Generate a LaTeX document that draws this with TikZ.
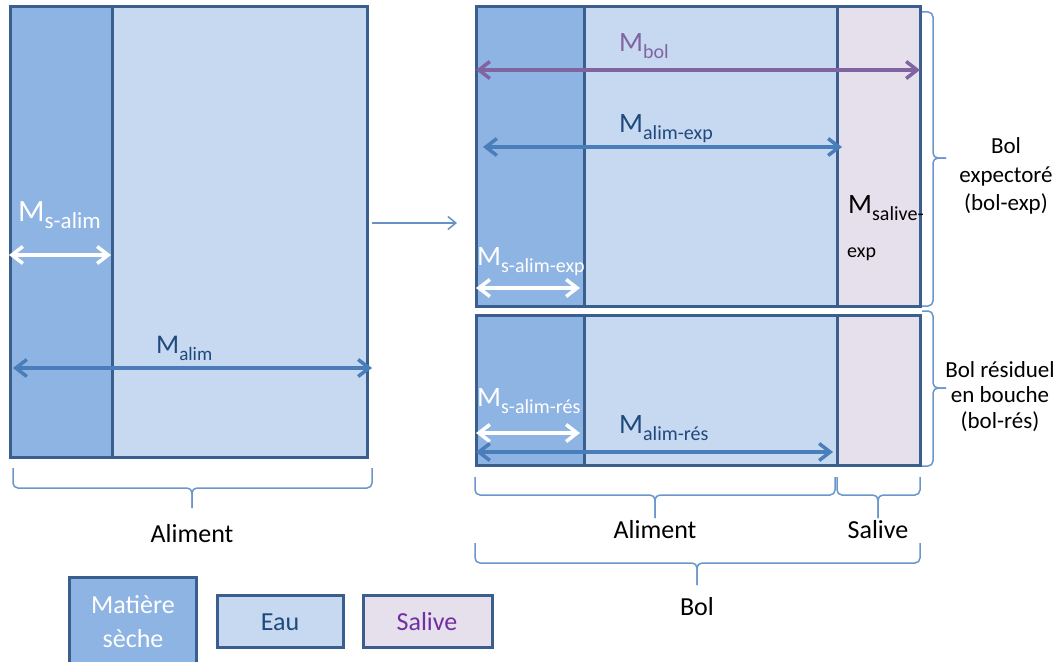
\documentclass[tikz,border=0pt]{standalone}
\usepackage{fontspec}
\setmainfont{Carlito}
\usetikzlibrary{arrows.meta}
\definecolor{dry}{HTML}{8EB4E3}
\definecolor{water}{HTML}{C6D9F1}
\definecolor{saliva}{HTML}{E6E0EC}
\definecolor{edge}{HTML}{3A5F8E}
\definecolor{arr}{HTML}{4A7EBB}
\definecolor{purp}{HTML}{8064A2}
\definecolor{darkt}{HTML}{1F497D}
\definecolor{brc}{HTML}{6A96CC}
\definecolor{legp}{HTML}{7030A0}
\newcommand\fs[1]{\fontsize{#1}{#1}\selectfont}
\newcommand\msub[3]{{\fs{#1}M}\raisebox{-7pt}{\fs{#2}#3}}
\newcommand\bracedown[6]{%
  \draw[bracestyle] (#1,#3) -- (#1,#4) -- (#6,#4) -- (#6,#5);
  \draw[bracestyle] (#2,#3) -- (#2,#4) -- (#6,#4) -- (#6,#5);}
\newcommand\braceright[6]{%
  \draw[bracestyle] (#3,#1) -- (#4,#1) -- (#4,#6) -- (#5,#6);
  \draw[bracestyle] (#3,#2) -- (#4,#2) -- (#4,#6) -- (#5,#6);}
\begin{document}
\begin{tikzpicture}[x=1pt,y=-1pt,
  boxline/.style={draw=edge,line width=3pt},
  dim/.style={line width=3.5pt,{Straight Barb[length=11pt,width=17pt]}-{Straight Barb[length=11pt,width=17pt]}},
  bracestyle/.style={draw=brc,line width=1.5pt,rounded corners=5pt},
  lab/.style={anchor=base west,inner sep=0pt},
  txt/.style={anchor=base,inner sep=0pt,font=\fs{26}},
  side/.style={anchor=base,inner sep=0pt,font=\fs{23}}]
\useasboundingbox (0,0) rectangle (1062,661);
% left block
\fill[water] (10,7) rectangle (367,457);
\fill[dry] (10,7) rectangle (112,457);
\draw[boxline] (10,7) rectangle (367,457);
\draw[boxline] (112,7) -- (112,457);
% right top block
\fill[water] (476,7) rectangle (920,306);
\fill[dry] (476,7) rectangle (584,306);
\fill[saliva] (837,7) rectangle (920,306);
\draw[boxline] (476,7) rectangle (920,306);
\draw[boxline] (584,7) -- (584,306);
\draw[boxline] (837,7) -- (837,306);
% right bottom block
\fill[water] (476,315) rectangle (920,465);
\fill[dry] (476,315) rectangle (584,465);
\fill[saliva] (837,315) rectangle (920,465);
\draw[boxline] (476,315) rectangle (920,465);
\draw[boxline] (584,315) -- (584,465);
\draw[boxline] (837,315) -- (837,465);
% transition arrow
\coordinate (tA) at (372,223);
\coordinate (tB) at (457,223);
\draw[draw=arr!85,line width=1.5pt,-{Straight Barb[length=8pt,width=13pt]}] (tA) -- (tB);
% dimension arrows
\coordinate (sa1) at (9,255); \coordinate (sa2) at (111,255);
\draw[dim,white] (sa1) -- (sa2);
\coordinate (ma1) at (13,368); \coordinate (ma2) at (372,368);
\draw[dim,arr] (ma1) -- (ma2);
\coordinate (mb1) at (476,70); \coordinate (mb2) at (920,70);
\draw[dim,purp] (mb1) -- (mb2);
\coordinate (me1) at (483,147); \coordinate (me2) at (842,147);
\draw[dim,arr] (me1) -- (me2);
\coordinate (se1) at (476,288); \coordinate (se2) at (580,288);
\draw[dim,white] (se1) -- (se2);
\coordinate (sr1) at (476,433); \coordinate (sr2) at (580,433);
\draw[dim,white] (sr1) -- (sr2);
\coordinate (mr1) at (476,452); \coordinate (mr2) at (833,452);
\draw[dim,arr] (mr1) -- (mr2);
% labels
\node[lab,white] (lsalim) at (18,221) {\msub{31}{23}{s-alim}};
\node[lab,darkt] (lalim) at (156,353) {\msub{27}{19}{alim}};
\node[lab,purp] (lbol) at (619,52) {\msub{28}{20}{bol}};
\node[lab,darkt] (lalimexp) at (619,132) {\msub{28}{20}{alim-exp}};
\node[lab,black] (lsal) at (848,213) {\msub{28}{20}{salive-}};
\node[lab,black] (lsal2) at (847,257) {\fs{20}exp};
\node[lab,white] (lsexp) at (477,265) {\msub{28}{20}{s-alim-exp}};
\node[lab,white] (lsres) at (477,406) {\msub{28}{20}{s-alim-rés}};
\node[lab,darkt] (lalimres) at (619,433) {\msub{28}{20}{alim-rés}};
% right braces
\braceright{12}{306}{922}{933}{946}{158}
\braceright{311}{466}{922}{933}{946}{388}
\node[side] (be1) at (1006,153) {Bol};
\node[side] (be2) at (1006,182) {expectoré};
\node[side] (be3) at (1006,210) {(bol-exp)};
\node[side] (br1) at (1000,377) {Bol résiduel};
\node[side] (br2) at (1000,402) {en bouche};
\node[side] (br3) at (1000,428) {(bol-rés)};
% bottom braces
\bracedown{13}{372}{468}{488}{508}{192}
\bracedown{475}{835}{477}{495}{518}{655}
\bracedown{837}{920}{477}{495}{518}{878}
\bracedown{475}{920}{543}{563}{585}{697}
\node[txt] (t1) at (192,542) {Aliment};
\node[txt] (t2) at (655,538) {Aliment};
\node[txt] (t3) at (878,538) {Salive};
\node[txt] (t4) at (697,615) {Bol};
% legend
\draw[boxline,fill=dry] (69,577) rectangle (196,670);
\draw[boxline,fill=water] (217,595) rectangle (343,647);
\draw[boxline,fill=saliva] (363,595) rectangle (492,647);
\node[txt,white] (lg1) at (133,613) {Matière};
\node[txt,white] (lg2) at (133,647) {sèche};
\node[txt,darkt] (lg3) at (280,630) {Eau};
\node[txt,legp] (lg4) at (427,630) {Salive};
\end{tikzpicture}
\end{document}
